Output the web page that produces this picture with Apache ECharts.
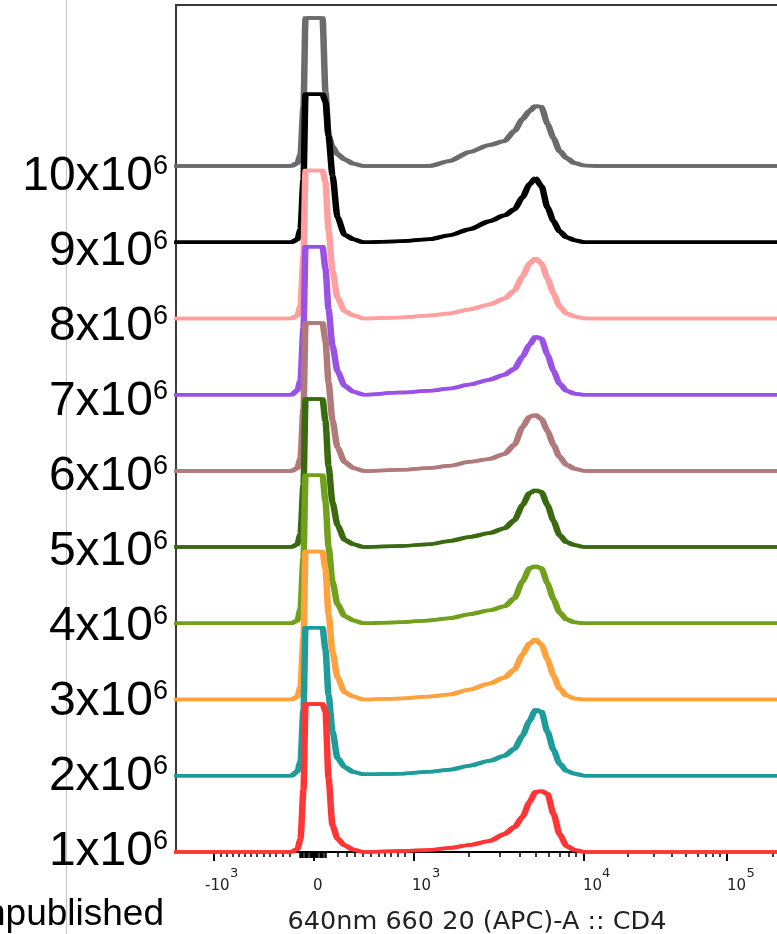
<!DOCTYPE html>
<html>
<head>
<meta charset="utf-8">
<script src="https://cdn.jsdelivr.net/npm/echarts@6/dist/echarts.min.js"></script>
<style>
  html, body { margin: 0; padding: 0; background: #fff; }
  #chart { width: 777px; height: 934px; }
</style>
</head>
<body>
<div id="chart"></div>
<script>
// display channel on the biexponential axis (0 = left edge of the plot frame)
const channel = [-4, 114, 120, 123, 126, 128, 145, 148, 151, 155, 160, 167, 176, 186,
  222, 252, 272, 292, 312, 327, 337, 345, 352, 358, 364, 370, 376, 382, 389, 397, 407, 422, 602];

// histogram heights, % of mode, one list per sample (cells loaded)
const h10 = [0, 0, 2, 8, 40, 100, 100, 50, 21, 13, 8, 4.5, 1.5, 0,
  0, 0, 3.4, 9.5, 14.2, 16.9, 23.6, 31.8, 37.2, 40.5, 39.9, 28.4, 18.9, 10.1, 5.4, 2, 0.3, 0, 0];
const h9 = [0, 0, 2, 9, 42, 100, 100, 95, 72, 45, 17, 5, 2, 0,
  0.7, 2, 4.7, 8.8, 14.2, 18.2, 22.3, 30.4, 39.2, 43.2, 37.8, 23.6, 14.2, 7.4, 3.4, 1.4, 0, 0, 0];
const h8 = [0, 0, 2, 9, 42, 100, 100, 92, 60, 32, 14, 5, 2, 0,
  0.7, 2, 3.4, 6.1, 9.5, 13.5, 18.9, 28.4, 37.2, 40.5, 37.2, 27, 16.9, 8.1, 3.4, 1.4, 0, 0, 0];
const h7 = [0, 0, 3, 10, 45, 100, 100, 85, 58, 33, 16, 6, 2, 0,
  1.4, 2.7, 4.1, 6.8, 10.1, 13.5, 17.6, 25.7, 33.8, 39.2, 37.8, 27, 16.2, 7.4, 2.7, 0.7, 0, 0, 0];
const h6 = [0, 0, 2, 9, 42, 100, 100, 88, 60, 34, 16, 6, 2, 0,
  0.7, 2, 3.4, 6.1, 8.1, 11.5, 17.6, 29.7, 36.5, 37.8, 35.1, 27, 17.6, 9.5, 4.1, 1.4, 0, 0, 0];
const h5 = [0, 0, 2, 9, 42, 100, 100, 85, 55, 30, 15, 5, 2, 0,
  0.7, 2, 4.1, 6.8, 9.5, 12.8, 18.2, 28.4, 36.5, 38.5, 37.2, 28.4, 17.6, 8.1, 3.4, 1.4, 0, 0, 0];
const h4 = [0, 0, 2, 10, 44, 100, 100, 82, 52, 28, 13, 5, 2, 0,
  0.7, 2, 3.4, 6.1, 8.8, 11.5, 16.9, 28.4, 37.2, 38.5, 37.2, 27, 16.2, 7.4, 2.7, 0.7, 0, 0, 0];
const h3 = [0, 0, 2, 9, 42, 100, 100, 88, 58, 32, 15, 5, 2, 0,
  0.7, 2, 3.4, 6.8, 10.8, 14.9, 20.3, 30.4, 37.8, 40.5, 37.2, 27, 16.2, 7.4, 2.7, 0.7, 0, 0, 0];
const h2 = [0, 0, 3, 10, 45, 100, 100, 85, 55, 30, 12, 6, 2.5, 1,
  1.4, 2.7, 4.1, 6.8, 10.1, 13.5, 18.2, 27, 37.2, 44.6, 43.2, 29.7, 17.6, 8.1, 3.4, 1.4, 0, 0, 0];
const h1 = [0, 0, 2, 9, 42, 100, 100, 95, 50, 18, 9, 4.5, 1.5, 0,
  0.7, 1.4, 2.7, 4.7, 7.4, 12.2, 16.9, 23.6, 33.8, 40.5, 41.2, 39.2, 25.7, 12.2, 4.1, 1.4, 0, 0, 0];

// samples drawn top to bottom, lower rows painted over upper rows
const doses = [10, 9, 8, 7, 6, 5, 4, 3, 2, 1];
const heights = [h10, h9, h8, h7, h6, h5, h4, h3, h2, h1];
const colors = ['#6b6b6b', '#000000', '#ff9f9f', '#9a52e4', '#b07a7a',
  '#3a6a10', '#70a01c', '#ffa23e', '#1e9c9a', '#ff3535'];

// x axis ticks (display channel) and labels
const majorTicks = [37.3, 137.5, 237.7, 407.3, 550.7];
const zeroTicks = [124, 126.5, 129, 131.5, 134, 136.5, 139, 141.5, 144, 146.5, 149];
const minorTicks = [45, 50.7, 56.7, 62.7, 69, 75, 81, 87.3, 94, 100, 106.7, 113.3,
  162, 171, 179, 187, 195, 202.7, 209, 215, 221.7, 229,
  292.7, 324, 344, 360, 373, 384, 393, 400,
  452, 478, 496, 510, 522, 530, 537, 544, 597];
const basePos = [29, 137, 236, 407, 551];
const baseText = ['-10', '0', '10', '10', '10'];
const expPos = [54, 256, 426, 570.5];
const expText = ['3', '3', '4', '5'];

const ROW_PX = 76.22;        // spacing between sample baselines
const PLOT_H = 847;          // frame height in px
const PEAK_ROWS = 148 / ROW_PX; // mode height, in rows

const series = doses.map((d, i) => ({
  name: d + 'x10^6',
  type: 'line',
  xAxisIndex: 0,
  yAxisIndex: 0,
  showSymbol: false,
  clip: false,
  smooth: 0.25,
  smoothMonotone: 'x',
  data: channel.map((x, j) => [x, (d - 1) + heights[i][j] / 100 * PEAK_ROWS]),
  lineStyle: {
    color: colors[i],
    width: 3.5,
    shadowColor: colors[i],
    shadowBlur: 0,
    shadowOffsetX: 3
  },
  itemStyle: { color: colors[i] }
}));

function nearest(list, v) {
  let k = 0;
  list.forEach((p, i) => { if (Math.abs(p - v) < Math.abs(list[k] - v)) k = i; });
  return k;
}

function tickAxis(values, len, width) {
  return {
    type: 'value', min: 0, max: 602, position: 'bottom',
    axisLine: { show: false },
    axisTick: { show: true, customValues: values, length: len, lineStyle: { color: '#000', width: width } },
    axisLabel: { show: false },
    splitLine: { show: false }
  };
}

function labelAxis(pos, text, margin, size) {
  return {
    type: 'value', min: 0, max: 602, position: 'bottom',
    axisLine: { show: false }, axisTick: { show: false }, splitLine: { show: false },
    axisLabel: {
      customValues: pos, margin: margin, align: 'left',
      fontFamily: 'DejaVu Sans', fontSize: size, color: '#222',
      formatter: v => text[nearest(pos, v)]
    }
  };
}

const chart = echarts.init(document.getElementById('chart'), null, { renderer: 'canvas' });
chart.setOption({
  animation: false,
  backgroundColor: '#fff',
  grid: {
    left: 176, top: 5, width: 602, height: PLOT_H,
    containLabel: false, outerBoundsMode: 'none',
    show: true, borderColor: '#3a3a3a', borderWidth: 2
  },
  xAxis: [
    {
      type: 'value', min: 0, max: 602, position: 'bottom',
      name: '640nm 660 20 (APC)-A :: CD4',
      nameLocation: 'middle',
      nameGap: 57,
      nameMoveOverlap: false,
      nameTextStyle: { fontFamily: 'DejaVu Sans', fontSize: 25.5, color: '#222' },
      axisLine: { show: true, lineStyle: { color: '#000', width: 2 } },
      axisTick: { show: true, customValues: majorTicks, length: 9, lineStyle: { color: '#000', width: 2 } },
      axisLabel: { show: false },
      splitLine: { show: false }
    },
    tickAxis(minorTicks, 5, 1.5),
    tickAxis(zeroTicks, 6, 2.5),
    labelAxis(basePos, baseText, 27, 15),
    labelAxis(expPos, expText, 15, 13)
  ],
  yAxis: [
    { type: 'value', min: 0, max: PLOT_H / ROW_PX, show: false, splitLine: { show: false } },
    {
      type: 'value', min: 0, max: PLOT_H / 75, position: 'left',
      axisLine: { show: false }, axisTick: { show: false }, splitLine: { show: false },
      axisLabel: {
        customValues: [0, 1, 2, 3, 4, 5, 6, 7, 8, 9],
        margin: 8,
        formatter: v => '{m|' + (Math.round(v) + 1) + 'x10}{s|6}',
        rich: {
          m: { fontFamily: 'Liberation Sans', fontSize: 48, color: '#000', lineHeight: 48 },
          s: { fontFamily: 'Liberation Sans', fontSize: 27, color: '#000', lineHeight: 36, verticalAlign: 'top' }
        }
      }
    }
  ],
  graphic: [
    { type: 'line', shape: { x1: 66.5, y1: 0, x2: 66.5, y2: 934 }, style: { stroke: '#c4c4c4', lineWidth: 1 }, z: -1 },
    { type: 'text', x: 164, y: 933, style: { text: 'Unpublished', font: '37px "Liberation Sans"', fill: '#000', align: 'right', verticalAlign: 'bottom' } }
  ],
  series: series
});
</script>
</body>
</html>
